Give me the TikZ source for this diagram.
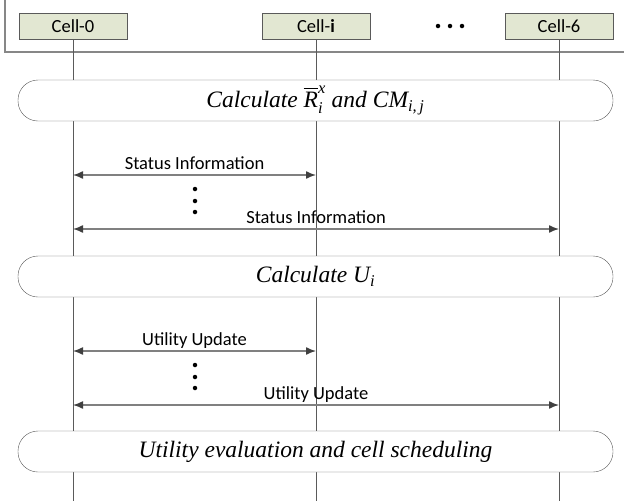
\documentclass[tikz,border=0pt]{standalone}
\usepackage{fontspec}
\usepackage{amsmath}
\setmainfont{Liberation Serif}
\newfontfamily\labelfont{Carlito}
\usetikzlibrary{arrows.meta}

\definecolor{cellfill}{RGB}{226,231,210}
\definecolor{lifegray}{RGB}{90,90,90}
\definecolor{framegray}{RGB}{135,135,135}
\definecolor{msggray}{RGB}{128,128,128}
\definecolor{headgray}{RGB}{64,64,64}

\tikzset{
  cellbox/.style={draw=lifegray, fill=cellfill, minimum width=108pt, minimum height=26pt,
    inner sep=0pt, font=\labelfont\fontsize{18.5}{20}\selectfont},
  procbox/.style={draw=lifegray, fill=white, rounded corners=20pt, minimum width=595pt,
    minimum height=41pt, inner sep=0pt, font=\itshape\fontsize{23.5}{25}\selectfont},
  lifeline/.style={lifegray, line width=0.8pt},
  msg/.style={msggray, line width=1.4pt,
    {Latex[length=10pt,width=8pt,color=headgray]}-{Latex[length=10pt,width=8pt,color=headgray]}},
  msglabel/.style={above=5pt, inner sep=0pt, text depth=0pt, text=black,
    font=\labelfont\fontsize{18.5}{20}\selectfont},
  gapdot/.style={circle, fill=black, inner sep=0pt, minimum size=4.5pt}
}

\begin{document}
\begin{tikzpicture}[x=1pt,y=-1pt]

  \useasboundingbox (0,0) rectangle (624,501);

  % Cell frame
  \begin{scope}
    \clip (0,0) rectangle (624,501);
    \draw[framegray,line width=1.3pt] (5,-20) -- (5,52) -- (660,52);
  \end{scope}

  % Cells
  \node[cellbox] (cell0) at (73,26)  {Cell-0};
  \node[cellbox] (celli) at (316,26) {Cell-\textbf{i}};
  \node[cellbox] (cell6) at (559,26) {Cell-6};
  \node[gapdot] (hdot1) at (438,26) {};
  \node[gapdot] (hdot2) at (450,26) {};
  \node[gapdot] (hdot3) at (462,26) {};

  % Lifelines
  \coordinate (end0) at (73,501);
  \coordinate (endi) at (316,501);
  \coordinate (end6) at (559,501);
  \draw[lifeline] (cell0.south) -- (end0);
  \draw[lifeline] (celli.south) -- (endi);
  \draw[lifeline] (cell6.south) -- (end6);

  % Processing steps
  \node[procbox] (calcr) at (315.5,100.5)
    {Calculate $\overline{\textit{R}}_{\textit{i}}^{\textit{x}}$ and $\textit{CM}_{\textit{i,\,j}}$};
  \node[procbox] (calcu) at (315.5,276.5) {Calculate $\textit{U}_{\textit{i}}$};
  \node[procbox] (sched) at (315.5,451.5) {Utility evaluation and cell scheduling};

  % Status information
  \coordinate (st1a) at (73,175);
  \coordinate (st1b) at (316,175);
  \coordinate (st2a) at (73,229);
  \coordinate (st2b) at (559,229);
  \draw[msg] (st1a) -- node[msglabel] {Status Information} (st1b);
  \draw[msg] (st2a) -- node[msglabel] {Status Information} (st2b);
  \node[gapdot] (sdot1) at (195,189) {};
  \node[gapdot] (sdot2) at (195,201) {};
  \node[gapdot] (sdot3) at (195,212) {};

  % Utility update
  \coordinate (ut1a) at (73,351);
  \coordinate (ut1b) at (316,351);
  \coordinate (ut2a) at (73,405);
  \coordinate (ut2b) at (559,405);
  \draw[msg] (ut1a) -- node[msglabel] {Utility Update} (ut1b);
  \draw[msg] (ut2a) -- node[msglabel] {Utility Update} (ut2b);
  \node[gapdot] (udot1) at (195,365) {};
  \node[gapdot] (udot2) at (195,377) {};
  \node[gapdot] (udot3) at (195,388) {};

\end{tikzpicture}
\end{document}
